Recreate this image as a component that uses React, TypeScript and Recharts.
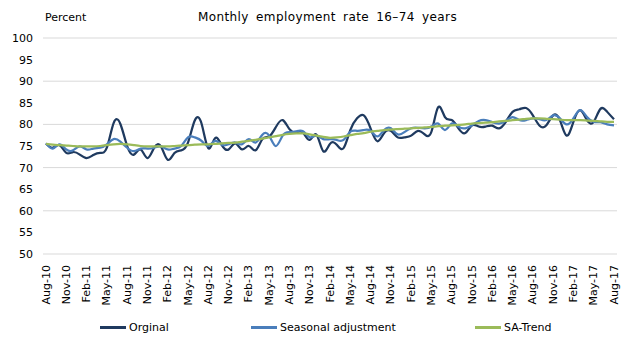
import { CartesianGrid, Legend, Line, LineChart, XAxis, YAxis } from 'recharts';

const months = [
  'Aug-10', 'Sep-10', 'Oct-10', 'Nov-10', 'Dec-10', 'Jan-11', 'Feb-11', 'Mar-11', 'Apr-11', 'May-11', 'Jun-11', 'Jul-11',
  'Aug-11', 'Sep-11', 'Oct-11', 'Nov-11', 'Dec-11', 'Jan-12', 'Feb-12', 'Mar-12', 'Apr-12', 'May-12', 'Jun-12', 'Jul-12',
  'Aug-12', 'Sep-12', 'Oct-12', 'Nov-12', 'Dec-12', 'Jan-13', 'Feb-13', 'Mar-13', 'Apr-13', 'May-13', 'Jun-13', 'Jul-13',
  'Aug-13', 'Sep-13', 'Oct-13', 'Nov-13', 'Dec-13', 'Jan-14', 'Feb-14', 'Mar-14', 'Apr-14', 'May-14', 'Jun-14', 'Jul-14',
  'Aug-14', 'Sep-14', 'Oct-14', 'Nov-14', 'Dec-14', 'Jan-15', 'Feb-15', 'Mar-15', 'Apr-15', 'May-15', 'Jun-15', 'Jul-15',
  'Aug-15', 'Sep-15', 'Oct-15', 'Nov-15', 'Dec-15', 'Jan-16', 'Feb-16', 'Mar-16', 'Apr-16', 'May-16', 'Jun-16', 'Jul-16',
  'Aug-16', 'Sep-16', 'Oct-16', 'Nov-16', 'Dec-16', 'Jan-17', 'Feb-17', 'Mar-17', 'Apr-17', 'May-17', 'Jun-17', 'Jul-17',
  'Aug-17',
];

const original = [
  75.6, 74.6, 75.2, 73.4, 73.6, 73.0, 72.2, 72.9, 73.4, 74.6, 80.3, 80.1,
  75.0, 73.0, 74.2, 72.2, 74.6, 74.9, 71.8, 73.4, 74.0, 75.8, 80.9, 80.2,
  74.5, 76.8, 75.2, 74.2, 75.6, 74.2, 75.0, 74.0, 76.6, 77.2, 79.4, 81.0,
  78.9, 78.2, 78.1, 76.4, 77.6, 73.8, 75.5, 75.3, 74.5, 78.7, 81.4, 82.1,
  79.1, 76.1, 78.0, 78.5, 77.0, 77.0, 77.4, 78.5, 77.7, 78.3, 84.0, 81.7,
  81.0, 79.1, 78.0, 79.8, 79.5, 79.5, 79.7, 79.1, 80.6, 82.9, 83.5, 83.8,
  82.1, 79.7, 79.8, 82.1, 81.0, 77.4, 80.6, 83.3, 81.0, 80.6, 83.6, 82.9,
  81.2,
];

const seasonal = [
  75.6, 74.4, 75.4, 74.2, 74.0, 74.9, 74.2, 74.4, 74.6, 75.4, 76.6, 76.0,
  74.6, 73.8, 74.4, 74.4, 74.6, 74.9, 74.2, 74.4, 75.0, 77.0, 77.0, 76.2,
  75.0, 76.2, 75.3, 75.4, 75.8, 75.4, 76.6, 75.8, 77.6, 77.4, 75.0, 77.4,
  78.2, 78.4, 78.4, 77.0, 77.4, 76.6, 76.6, 76.4, 76.4, 78.3, 78.5, 78.7,
  78.5, 77.2, 78.7, 79.1, 77.7, 78.2, 79.1, 79.2, 79.1, 79.5, 80.2, 78.7,
  80.2, 79.5, 79.1, 79.8, 80.8, 81.0, 80.5, 80.2, 80.8, 81.7, 81.0, 81.0,
  81.4, 81.2, 81.0, 82.1, 81.4, 80.0, 81.4, 83.3, 81.7, 80.6, 80.5, 80.0,
  79.8,
];

const trend = [
  75.5, 75.3, 75.2, 75.1, 75.0, 74.9, 74.9, 74.9, 75.0, 75.2, 75.4, 75.5,
  75.4, 75.2, 75.0, 74.9, 74.9, 74.9, 74.9, 75.0, 75.1, 75.2, 75.3, 75.4,
  75.4, 75.5, 75.6, 75.7, 75.8, 76.0, 76.2, 76.4, 76.7, 77.0, 77.3, 77.6,
  77.8, 77.9, 77.9, 77.7, 77.4, 77.1, 76.9, 77.0, 77.2, 77.5, 77.8, 78.0,
  78.3, 78.5, 78.7, 78.8, 78.9, 79.0, 79.1, 79.2, 79.3, 79.4, 79.6, 79.7,
  79.8, 79.9, 80.0, 80.2, 80.3, 80.4, 80.5, 80.7, 80.8, 81.0, 81.1, 81.3,
  81.4, 81.4, 81.3, 81.2, 81.1, 81.0, 81.0, 81.0, 80.9, 80.8, 80.7, 80.6,
  80.6,
];

const yTicks = [50, 55, 60, 65, 70, 75, 80, 85, 90, 95, 100];

const data = months.map((m, i) => ({
  month: m,
  original: original[i],
  seasonal: seasonal[i],
  trend: trend[i],
}));

const FONT = '"DejaVu Sans", Verdana, sans-serif';

const series = [
  { key: 'original', name: 'Orginal', color: '#1F3A5F' },
  { key: 'seasonal', name: 'Seasonal adjustment', color: '#4A7EBB' },
  { key: 'trend', name: 'SA-Trend', color: '#9BBB59' },
];

function MonthTick(props: any) {
  const { x, y, payload } = props;
  const ty = y + 3;
  return (
    <text
      x={x}
      y={ty}
      transform={`rotate(-90 ${x} ${ty})`}
      textAnchor="end"
      dominantBaseline="central"
      fill="#000"
      fontSize={11}
      fontFamily={FONT}
    >
      {payload.value}
    </text>
  );
}

function LegendBox() {
  return (
    <div style={{ position: 'relative', width: 643, height: 20, fontFamily: FONT, fontSize: 11, color: '#000' }}>
      {series.map((s, i) => (
        <div
          key={s.key}
          style={{ position: 'absolute', left: [100, 251, 475][i], top: 2, display: 'flex', alignItems: 'center' }}
        >
          <span style={{ display: 'inline-block', width: 26, height: 3, background: s.color, marginRight: 3 }} />
          <span>{s.name}</span>
        </div>
      ))}
    </div>
  );
}

export default function App() {
  return (
    <div style={{ position: 'absolute', left: 0, top: 0, width: 643, height: 340, background: '#fff' }}>
      <div style={{ position: 'absolute', left: 45, top: 11, fontFamily: FONT, fontSize: 11, color: '#000' }}>Percent</div>
      <div
        style={{
          position: 'absolute',
          left: 0,
          width: 643,
          textAlign: 'center',
          top: 10,
          fontFamily: FONT,
          fontSize: 12,
          letterSpacing: 0.4,
          wordSpacing: 3,
          color: '#000',
          paddingLeft: 6,
        }}
      >
        Monthly employment rate 16–74 years
      </div>
      <LineChart width={643} height={340} data={data} margin={{ top: 38, right: 26, left: 0, bottom: 0 }}>
        <CartesianGrid vertical={false} stroke="#D9D9D9" strokeWidth={1} />
        <XAxis
          dataKey="month"
          interval={2}
          tick={<MonthTick />}
          tickLine={false}
          axisLine={false}
          height={66}
          padding={{ left: 3, right: 3 }}
        />
        <YAxis
          domain={[50, 100]}
          ticks={yTicks}
          width={43}
          tickLine={false}
          axisLine={false}
          tickMargin={4}
          tick={{ fill: '#000', fontSize: 11, fontFamily: FONT }}
        />
        <Legend verticalAlign="bottom" wrapperStyle={{ left: 0, bottom: 1 }} content={() => <LegendBox />} />
        {series.map((s) => (
          <Line
            key={s.key}
            type="natural"
            dataKey={s.key}
            name={s.name}
            stroke={s.color}
            strokeWidth={2.25}
            dot={false}
            activeDot={false}
            isAnimationActive={false}
          />
        ))}
      </LineChart>
    </div>
  );
}
